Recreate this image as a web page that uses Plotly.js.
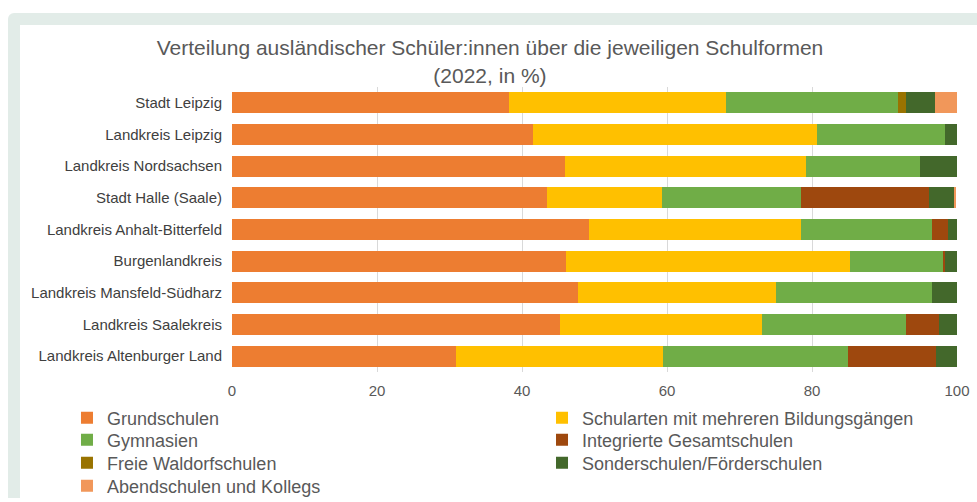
<!DOCTYPE html>
<html><head><meta charset="utf-8">
<script src="https://cdn.plot.ly/plotly-3.0.1.min.js"></script>
<style>
html,body{margin:0;padding:0;background:#fff;width:977px;height:502px;overflow:hidden;}
#frame{position:absolute;left:8px;top:13px;width:969px;height:485px;background:#e2ece8;border-top-left-radius:6px;}
#inner{position:absolute;left:20px;top:25px;width:957px;height:473px;background:#fff;}
#chart{position:absolute;left:0;top:0;width:977px;height:502px;}
</style></head>
<body>
<div id="frame"></div>
<div id="inner"></div>
<div id="chart"></div>
<script>
const regions = ["Stadt Leipzig","Landkreis Leipzig","Landkreis Nordsachsen","Stadt Halle (Saale)","Landkreis Anhalt-Bitterfeld","Burgenlandkreis","Landkreis Mansfeld-Südharz","Landkreis Saalekreis","Landkreis Altenburger Land"];
const seriesNames = ["Grundschulen","Schularten mit mehreren Bildungsgängen","Gymnasien","Integrierte Gesamtschulen","Freie Waldorfschulen","Sonderschulen/Förderschulen","Abendschulen und Kollegs"];
const grundschulen = [38.2, 41.5, 45.9, 43.4, 49.2, 46.0, 47.7, 45.2, 30.9];
const schularten   = [30.0, 39.2, 33.3, 15.9, 29.3, 39.3, 27.4, 27.9, 28.6];
const gymnasien    = [23.6, 17.7, 15.7, 19.2, 18.1, 12.8, 21.5, 19.8, 25.4];
const gesamtschulen= [0, 0, 0, 17.6, 2.1, 0.3, 0, 4.6, 12.2];
const waldorf      = [1.1, 0, 0, 0, 0, 0, 0, 0, 0];
const sonder       = [4.1, 1.6, 5.1, 3.5, 1.7, 1.6, 3.4, 2.5, 2.9];
const abend        = [3.0, 0, 0, 0.3, 0, 0, 0, 0, 0];
const xTicks = [0,20,40,60,80,100];

const values = [grundschulen, schularten, gymnasien, gesamtschulen, waldorf, sonder, abend];
const colors = ["#ED7D31","#FFC000","#70AD47","#9E480E","#997300","#43682B","#F1975A"];

// legend slots: [column, row]
const legendSlots = [[0,0],[1,0],[0,1],[1,1],[0,2],[1,2],[0,3]];
const colX = [-0.2276, 0.4276];
const rowY = [-0.1614, -0.2386, -0.3193, -0.400];

const traces = values.map((v,i)=>({
  type:'bar', orientation:'h', name: seriesNames[i], x: v, y: regions,
  marker:{color: colors[i], line:{width:0}},
  legend: i===0 ? 'legend' : 'legend'+(i+1),
  hoverinfo:'x+name'
}));

const legendFont = {family:'Liberation Sans, Arial, sans-serif', size:18, color:'#595959'};

const layout = {
  width:977, height:502,
  paper_bgcolor:'rgba(0,0,0,0)', plot_bgcolor:'#ffffff',
  barmode:'stack', bargap:0.335,
  margin:{l:232, r:20, t:87, b:130, autoexpand:false},
  font:{family:'Liberation Sans, Arial, sans-serif', color:'#595959'},
  title:{text:'Verteilung ausländischer Schüler:innen über die jeweiligen Schulformen<br>(2022, in %)',
    font:{family:'Liberation Sans, Arial, sans-serif', size:21, color:'#595959'},
    xref:'container', yref:'container', x:0.5015, xanchor:'center', y:0.89, yanchor:'top'},
  xaxis:{range:[0,100], tickvals:xTicks, ticktext:xTicks.map(String), showgrid:true, gridcolor:'#d9d9d9', gridwidth:1,
    zeroline:false, showline:false, tickfont:{size:15, color:'#595959'}, ticks:'', ticklabelstandoff:8, fixedrange:true},
  yaxis:{autorange:'reversed', type:'category', showgrid:false, zeroline:false, showline:false,
    tickfont:{size:15, color:'#404040'}, ticks:'', ticklabelstandoff:9},
  showlegend:true
};
values.forEach((v,i)=>{
  const key = i===0 ? 'legend' : 'legend'+(i+1);
  const [c,r] = legendSlots[i];
  layout[key] = {orientation:'v', x:colX[c], xanchor:'left', y:rowY[r], yanchor:'middle',
    font:legendFont, itemwidth:30, bgcolor:'rgba(0,0,0,0)', borderwidth:0};
});
Plotly.newPlot('chart', traces, layout, {displayModeBar:false, staticPlot:true});
</script>
</body></html>
